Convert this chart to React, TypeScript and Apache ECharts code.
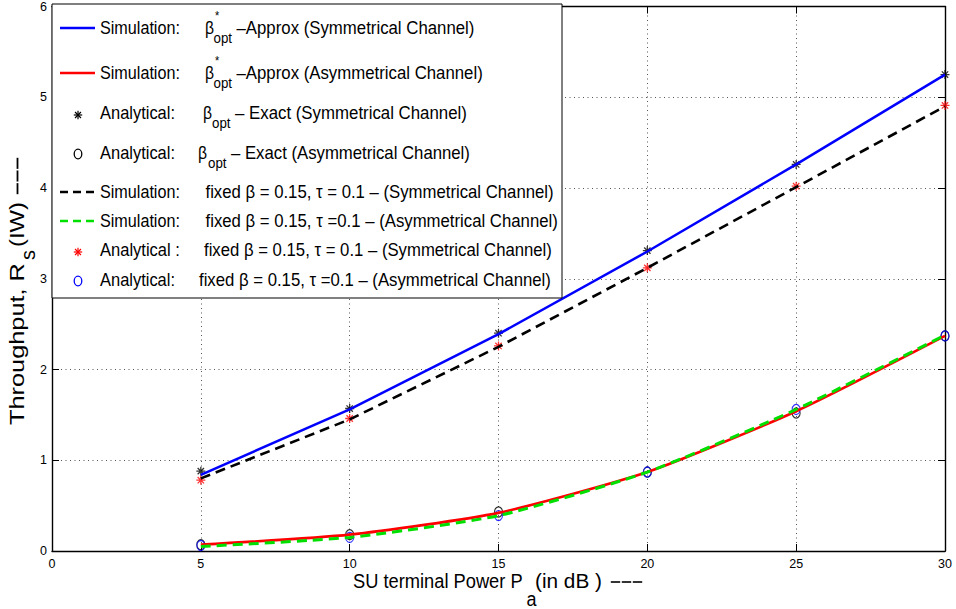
import React, { useEffect, useRef } from 'react';
import * as echarts from 'echarts';

// ---------------- data ----------------
const xValues = [5, 10, 15, 20, 25, 30];
const simApproxSym = [0.84, 1.56, 2.39, 3.3, 4.26, 5.25];
const simApproxAsym = [0.07, 0.18, 0.42, 0.87, 1.54, 2.37];
const anaExactSym = [0.88, 1.57, 2.4, 3.31, 4.26, 5.25];
const anaExactAsym = [0.07, 0.18, 0.43, 0.87, 1.52, 2.37];
const simFixedSym = [0.8, 1.45, 2.25, 3.12, 4.01, 4.9];
const simFixedAsym = [0.05, 0.15, 0.39, 0.87, 1.56, 2.38];
const anaFixedSym = [0.78, 1.46, 2.26, 3.12, 4.02, 4.91];
const anaFixedAsym = [0.06, 0.15, 0.39, 0.87, 1.56, 2.37];

const xRange = { min: 0, max: 30, interval: 5 };
const yRange = { min: 0, max: 6, interval: 1 };

const seriesNames = [
  'Simulation: β*opt –Approx (Symmetrical Channel)',
  'Simulation: β*opt –Approx (Asymmetrical Channel)',
  'Analytical: βopt – Exact (Symmetrical Channel)',
  'Analytical: βopt – Exact (Asymmetrical Channel)',
  'Simulation: fixed β = 0.15, τ = 0.1 – (Symmetrical Channel)',
  'Simulation: fixed β = 0.15, τ =0.1 – (Asymmetrical Channel)',
  'Analytical : fixed β = 0.15, τ = 0.1 – (Symmetrical Channel)',
  'Analytical: fixed β = 0.15, τ =0.1 – (Asymmetrical Channel)',
];

// ---------------- style / layout ----------------
const FONT = '"Liberation Sans", Arial, Helvetica, sans-serif';
const BLUE = '#0000ff';
const RED = '#ff0000';
const GREEN = '#00e000';
const BLACK = '#000000';
const STAR = 'path://M0,-10L0,10M-10,0L10,0M-7.07,-7.07L7.07,7.07M-7.07,7.07L7.07,-7.07';

let mctx: CanvasRenderingContext2D | null = null;
function measure(text: string, size: number): number {
  if (!mctx) mctx = document.createElement('canvas').getContext('2d');
  mctx!.font = `${size}px "Liberation Sans"`;
  return mctx!.measureText(text).width;
}

function txt(text: string, x: number, y: number, size: number, scaleX = 1, color = BLACK): any {
  return {
    type: 'text',
    x,
    y,
    scaleX,
    z: 100,
    style: {
      text,
      x: 0,
      y: 0,
      fontSize: size,
      fontFamily: FONT,
      fill: color,
      align: 'left',
      verticalAlign: 'middle',
      textAlign: 'left',
      textVerticalAlign: 'middle',
    },
  };
}
function fit(text: string, x0: number, x1: number, y: number, size: number): any {
  const w = measure(text, size);
  return txt(text, x0, y, size, (x1 - x0) / w);
}
// three separate dashes (the "---" after the axis titles)
function dashes(x0: number, x1: number, y: number, thick: number, horizontal: boolean): any[] {
  const seg = (x1 - x0) / 3;
  const out: any[] = [];
  for (let i = 0; i < 3; i++) {
    const a = x0 + i * seg + 0.8;
    const b = x0 + (i + 1) * seg - 0.8;
    out.push({
      type: 'line',
      z: 100,
      shape: horizontal ? { x1: a, y1: y, x2: b, y2: y } : { x1: y, y1: a, x2: y, y2: b },
      style: { stroke: BLACK, lineWidth: thick },
    });
  }
  return out;
}

const LEG_FS = 18.5;
const legendRows = [
  { y: 28, icon: 'line', color: BLUE, lead: 'Simulation:', leadEnd: 180, beta: 205, sup: 215, sub: 213.5, restX: 236.5, restEnd: 474.5, rest: '–Approx (Symmetrical Channel)' },
  { y: 73, icon: 'line', color: RED, lead: 'Simulation:', leadEnd: 180, beta: 205, sup: 215, sub: 213.5, restX: 236.5, restEnd: 483, rest: '–Approx (Asymmetrical Channel)' },
  { y: 113, icon: 'star', color: BLACK, lead: 'Analytical:', leadEnd: 175, beta: 203, sub: 212, restX: 235, restEnd: 467, rest: '– Exact (Symmetrical Channel)' },
  { y: 153, icon: 'circle', color: BLACK, lead: 'Analytical:', leadEnd: 175, beta: 198, sub: 208, restX: 231, restEnd: 470, rest: '– Exact (Asymmetrical Channel)' },
  { y: 192, icon: 'dash', color: BLACK, lead: 'Simulation:', leadEnd: 180, restX: 205.5, restEnd: 553.8, rest: 'fixed β = 0.15, τ = 0.1 – (Symmetrical Channel)' },
  { y: 221, icon: 'dash', color: GREEN, lead: 'Simulation:', leadEnd: 180, restX: 205.5, restEnd: 558, rest: 'fixed β = 0.15, τ =0.1 – (Asymmetrical Channel)' },
  { y: 250, icon: 'star', color: RED, lead: 'Analytical :', leadEnd: 180, restX: 204, restEnd: 552, rest: 'fixed β = 0.15, τ = 0.1 – (Symmetrical Channel)' },
  { y: 280, icon: 'circle', color: BLUE, lead: 'Analytical:', leadEnd: 175, restX: 199, restEnd: 551, rest: 'fixed β = 0.15, τ =0.1 – (Asymmetrical Channel)' },
];

function legendElements(): any[] {
  const els: any[] = [];
  els.push({
    type: 'rect',
    z: 99,
    shape: { x: 52, y: 4, width: 510, height: 294 },
    style: { fill: '#fff', stroke: BLACK, lineWidth: 1 },
  });
  legendRows.forEach((r: any) => {
    if (r.icon === 'line' || r.icon === 'dash') {
      els.push({
        type: 'line',
        z: 100,
        shape: { x1: 60, y1: r.y, x2: 95, y2: r.y },
        style: { stroke: r.color, lineWidth: r.icon === 'dash' ? 2.6 : 2.5, lineDash: r.icon === 'dash' ? [8, 5] : null },
      });
    } else if (r.icon === 'star') {
      const cx = 78, cy = r.y + 2, R = 4.2;
      const angs = [0, Math.PI / 4, Math.PI / 2, (3 * Math.PI) / 4];
      angs.forEach((a) => {
        els.push({
          type: 'line',
          z: 100,
          shape: { x1: cx - R * Math.cos(a), y1: cy - R * Math.sin(a), x2: cx + R * Math.cos(a), y2: cy + R * Math.sin(a) },
          style: { stroke: r.color, lineWidth: 1.2 },
        });
      });
    } else {
      els.push({
        type: 'ellipse',
        z: 100,
        shape: { cx: 78, cy: r.y + 1, rx: 3.8, ry: 4.8 },
        style: { fill: 'none', stroke: r.color, lineWidth: 1.3 },
      });
    }
    els.push(fit(r.lead, 100, r.leadEnd, r.y, LEG_FS));
    if (r.beta !== undefined) {
      els.push(txt('β', r.beta, r.y, LEG_FS, 0.85));
      if (r.sup !== undefined) els.push(txt('*', r.sup, r.y - 12, 12, 0.9));
      els.push(fit('opt', r.sub, r.sub + 18.5, r.y + 10, 14));
    }
    els.push(fit(r.rest, r.restX, r.restEnd, r.y, LEG_FS));
  });
  return els;
}

function titleElements(): any[] {
  const els: any[] = [];
  // x axis title
  els.push(fit('SU terminal Power P', 353, 522.7, 581, 19.5));
  els.push(fit('a', 526.5, 536.5, 599.5, 19.5));
  els.push(fit('(in dB )', 535, 602, 581, 19.5));
  els.push(...dashes(610, 643, 582, 1.6, true));
  // y axis title (rotated)
  const yfs = 20.5;
  const children = [
    fit('Throughput, R', 0, 162, 0, yfs),
    fit('s', 165, 175, 11, yfs),
  ];
  children.push(fit('(IW)', 178, 223, 0, yfs));
  els.push({ type: 'group', x: 17, y: 425, rotation: Math.PI / 2, children });
  els.push(...dashes(157, 195, 17.5, 1.8, false));
  return els;
}

const pair = (arr: number[]) => xValues.map((x, i) => [x, arr[i]]);

function buildOption(): any {
  const axisCommon = {
    axisLine: { show: true, onZero: false, lineStyle: { color: BLACK, width: 1.4 } },
    axisTick: { show: true, inside: true, length: 7, lineStyle: { color: BLACK, width: 1 } },
  };
  const dotted = { show: true, lineStyle: { color: '#555', type: [1, 3.5], width: 1 } };
  const lbl = { color: BLACK, fontSize: 12.5, fontFamily: FONT, showMinLabel: true, showMaxLabel: true };
  return {
    animation: false,
    backgroundColor: '#ffffff',
    textStyle: { fontFamily: FONT },
    grid: { left: 52, right: 11, top: 4, bottom: 58, containLabel: false },
    xAxis: [
      { type: 'value', ...xRange, position: 'bottom', ...axisCommon, axisLabel: { ...lbl, margin: 6 }, splitLine: dotted },
      { type: 'value', ...xRange, position: 'top', ...axisCommon, axisLabel: { show: false }, splitLine: { show: false } },
    ],
    yAxis: [
      { type: 'value', ...yRange, position: 'left', ...axisCommon, axisLabel: { ...lbl, margin: 5 }, splitLine: dotted },
      { type: 'value', ...yRange, position: 'right', ...axisCommon, axisLabel: { show: false }, splitLine: { show: false } },
    ],
    series: [
      { type: 'line', name: seriesNames[0], data: pair(simApproxSym), symbol: 'none', lineStyle: { color: BLUE, width: 2.5 }, itemStyle: { color: BLUE }, silent: true },
      { type: 'line', name: seriesNames[1], data: pair(simApproxAsym), symbol: 'none', smooth: 0.2, lineStyle: { color: RED, width: 2.6 }, itemStyle: { color: RED }, silent: true },
      { type: 'line', name: seriesNames[4], data: pair(simFixedSym), symbol: 'none', lineStyle: { color: BLACK, width: 2.6, type: [10, 6] }, itemStyle: { color: BLACK }, silent: true },
      { type: 'line', name: seriesNames[5], data: pair(simFixedAsym), symbol: 'none', smooth: 0.2, lineStyle: { color: GREEN, width: 3, type: [10, 6] }, itemStyle: { color: GREEN }, silent: true },
      { type: 'scatter', name: seriesNames[2], data: pair(anaExactSym), symbol: STAR, symbolSize: 9, clip: false, itemStyle: { color: BLACK, borderColor: BLACK, borderWidth: 1.3 }, silent: true },
      { type: 'scatter', name: seriesNames[3], data: pair(anaExactAsym), symbol: 'circle', symbolSize: [8, 10], clip: false, itemStyle: { color: 'rgba(0,0,0,0)', borderColor: BLACK, borderWidth: 1.2 }, silent: true },
      { type: 'scatter', name: seriesNames[6], data: pair(anaFixedSym), symbol: STAR, symbolSize: 9, clip: false, itemStyle: { color: RED, borderColor: RED, borderWidth: 1.3 }, silent: true },
      { type: 'scatter', name: seriesNames[7], data: pair(anaFixedAsym), symbol: 'circle', symbolSize: [8, 10], clip: false, itemStyle: { color: 'rgba(0,0,0,0)', borderColor: BLUE, borderWidth: 1.2 }, silent: true },
    ],
    graphic: { elements: [...legendElements(), ...titleElements()] },
  };
}

export default function App() {
  const ref = useRef<HTMLDivElement>(null);
  useEffect(() => {
    document.body.style.margin = '0';
    const chart = echarts.init(ref.current!, null, { renderer: 'svg' });
    chart.setOption(buildOption());
    return () => chart.dispose();
  }, []);
  return <div ref={ref} style={{ width: 956, height: 609 }} />;
}
